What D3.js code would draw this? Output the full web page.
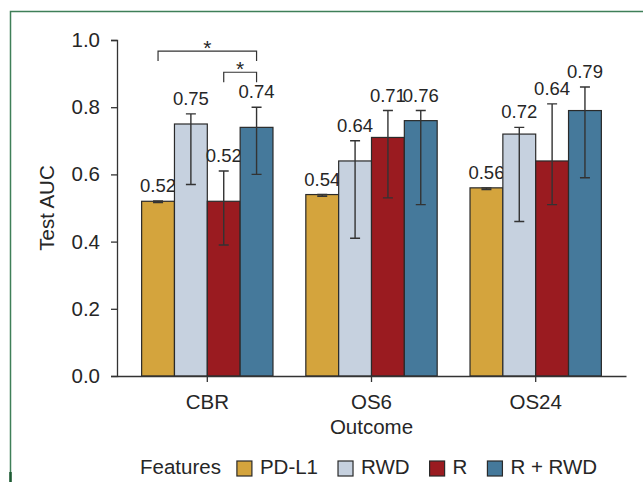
<!DOCTYPE html>
<html>
<head>
<meta charset="utf-8">
<script src="https://cdn.jsdelivr.net/npm/d3@7"></script>
<style>
  body { margin: 0; background: #fff; }
  svg { display: block; font-family: "Liberation Sans", Arial, sans-serif; }
</style>
</head>
<body>
<svg id="chart"></svg>
<script>
// ---- data ----
const outcomes = ["CBR", "OS6", "OS24"];
const features = ["PD-L1", "RWD", "R", "R + RWD"];
const featureColors = ["#d4a43d", "#c6d1df", "#9a1b20", "#45799b"];

// mean test AUC per feature, in outcome order
const aucPDL1 = [0.52, 0.54, 0.56];
const aucRWD = [0.75, 0.64, 0.72];
const aucR = [0.52, 0.71, 0.64];
const aucRRWD = [0.74, 0.76, 0.79];

// error bar ends
const lowPDL1 = [0.516, 0.535, 0.555];
const highPDL1 = [0.521, 0.540, 0.560];
const lowRWD = [0.57, 0.41, 0.46];
const highRWD = [0.78, 0.70, 0.74];
const lowR = [0.39, 0.53, 0.51];
const highR = [0.61, 0.79, 0.81];
const lowRRWD = [0.60, 0.51, 0.59];
const highRRWD = [0.80, 0.79, 0.86];

const yTicks = [0, 0.2, 0.4, 0.6, 0.8, 1.0];

// significance brackets within CBR: [from, to, bracket level]
const sigOutcome = "CBR";
const sigFrom = ["PD-L1", "R"];
const sigTo = ["R + RWD", "R + RWD"];
const sigLevel = [0.967, 0.904];

const means = [aucPDL1, aucRWD, aucR, aucRRWD];
const lows = [lowPDL1, lowRWD, lowR, lowRRWD];
const highs = [highPDL1, highRWD, highR, highRRWD];

const rows = [];
outcomes.forEach((o, i) => {
  features.forEach((f, j) => {
    rows.push({ outcome: o, feature: f, fi: j, value: means[j][i], lo: lows[j][i], hi: highs[j][i] });
  });
});

// ---- layout ----
const width = 643, height = 482;
const textColor = "#262626";
const fontSize = 20.5;

const svg = d3.select("#chart").attr("width", width).attr("height", height);

// panel frame
svg.append("rect")
  .attr("x", 10.5).attr("y", 11.5)
  .attr("width", 700).attr("height", 600)
  .attr("fill", "none")
  .attr("stroke", "#3f7f58")
  .attr("stroke-width", 1.5);
svg.append("line")
  .attr("x1", 10.5).attr("x2", 10.5).attr("y1", 472).attr("y2", 482)
  .attr("stroke", "#1d5a32").attr("stroke-width", 2.5);

const y = d3.scaleLinear().domain([0, 1]).range([376, 40]);
const x0 = d3.scaleBand().domain(outcomes).range([117, 626]).paddingInner(0.2).paddingOuter(0.15);
const x1 = d3.scaleBand().domain(features).range([0, x0.bandwidth()]);
const color = d3.scaleOrdinal().domain(features).range(featureColors);

// bars
const groups = svg.append("g")
  .selectAll("g")
  .data(rows)
  .join("g")
  .attr("transform", d => `translate(${x0(d.outcome)},0)`);

groups.append("rect")
  .attr("x", d => x1(d.feature))
  .attr("y", d => y(d.value))
  .attr("width", x1.bandwidth())
  .attr("height", d => y(0) - y(d.value))
  .attr("fill", d => color(d.feature))
  .attr("stroke", "#2a2a2a")
  .attr("stroke-width", 1.2);

// error bars
const cx = d => x1(d.feature) + x1.bandwidth() / 2;
const capHalf = 5;
groups.append("path")
  .attr("d", d => `M${cx(d)},${y(d.lo)}V${y(d.hi)}M${cx(d) - capHalf},${y(d.hi)}H${cx(d) + capHalf}M${cx(d) - capHalf},${y(d.lo)}H${cx(d) + capHalf}`)
  .attr("fill", "none")
  .attr("stroke", "#333")
  .attr("stroke-width", 1.4);

// value labels
groups.append("text")
  .attr("x", cx)
  .attr("y", d => y(d.hi) - 9)
  .attr("text-anchor", "middle")
  .attr("font-size", 18.5)
  .attr("fill", textColor)
  .text(d => d3.format(".2f")(d.value));

// significance brackets
const sigG = svg.append("g").attr("transform", `translate(${x0(sigOutcome)},0)`);
sigFrom.forEach((f, i) => {
  const xa = x1(f) + x1.bandwidth() / 2;
  const xb = x1(sigTo[i]) + x1.bandwidth() / 2;
  const yl = y(sigLevel[i]);
  sigG.append("path")
    .attr("d", `M${xa},${yl + 10}V${yl}H${xb}V${yl + 10}`)
    .attr("fill", "none")
    .attr("stroke", "#333")
    .attr("stroke-width", 1.2);
  sigG.append("text")
    .attr("x", (xa + xb) / 2)
    .attr("y", yl + 4)
    .attr("text-anchor", "middle")
    .attr("font-size", 21)
    .attr("fill", textColor)
    .text("*");
});

// axes
const yAxis = svg.append("g")
  .attr("transform", "translate(117,0)")
  .call(d3.axisLeft(y).tickValues(yTicks).tickFormat(d3.format(".1f")).tickSize(6).tickPadding(11));
const xAxis = svg.append("g")
  .attr("transform", `translate(0,${y(0)})`)
  .call(d3.axisBottom(x0).tickSize(6).tickSizeOuter(0).tickPadding(12));

[yAxis, xAxis].forEach(ax => {
  ax.selectAll("path, line").attr("stroke", "#333").attr("stroke-width", 1.3);
  ax.selectAll("text").attr("font-size", fontSize).attr("fill", textColor).attr("font-family", null);
});

// axis titles
svg.append("text")
  .attr("transform", `translate(54,${(y(0) + y(1)) / 2}) rotate(-90)`)
  .attr("text-anchor", "middle")
  .attr("font-size", fontSize)
  .attr("fill", textColor)
  .text("Test AUC");

svg.append("text")
  .attr("x", (x0.range()[0] + x0.range()[1]) / 2)
  .attr("y", 434)
  .attr("text-anchor", "middle")
  .attr("font-size", fontSize)
  .attr("fill", textColor)
  .text("Outcome");

// legend
const legend = svg.append("g").attr("transform", "translate(140,474)");
let lx = 0;
const lt = legend.append("text")
  .attr("x", lx).attr("font-size", fontSize).attr("fill", textColor).text("Features");
lx += lt.node().getComputedTextLength() + 16;
features.forEach((f, i) => {
  legend.append("rect")
    .attr("x", lx).attr("y", -13)
    .attr("width", 15).attr("height", 15)
    .attr("fill", color(f))
    .attr("stroke", "#2a2a2a")
    .attr("stroke-width", 1.2);
  lx += 23;
  const t = legend.append("text")
    .attr("x", lx).attr("font-size", fontSize).attr("fill", textColor).text(f);
  lx += t.node().getComputedTextLength() + 20;
});
</script>
</body>
</html>
